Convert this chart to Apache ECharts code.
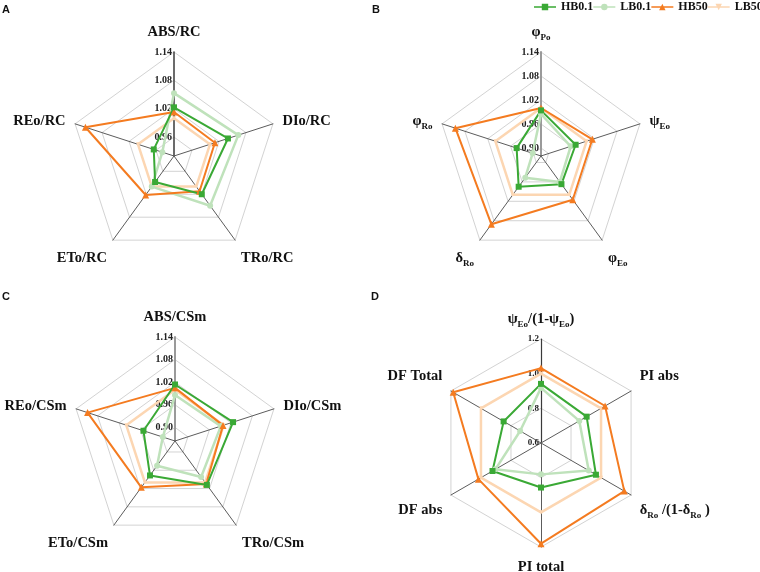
<!DOCTYPE html>
<html>
<head>
<meta charset="utf-8">
<script src="https://cdn.jsdelivr.net/npm/echarts@6/dist/echarts.min.js"></script>
<style>html,body{margin:0;padding:0;background:#fff}#c{width:760px;height:572px}</style>
</head>
<body>
<div id="c"></div>
<script>
// ---------- data ----------
const seriesNames = ['HB0.1', 'LB0.1', 'HB50', 'LB50'];

const catsA = ['ABS/RC', 'DIo/RC', 'TRo/RC', 'ETo/RC', 'REo/RC'];
const ticksA = [0.96, 1.02, 1.08, 1.14];
const minA = 0.92, maxA = 1.14;
const hb01A = [1.023, 1.040, 1.020, 0.988, 0.965];
const lb01A = [1.053, 1.063, 1.050, 1.000, 0.946];
const hb50A = [1.013, 1.011, 1.012, 1.022, 1.117];
const lb50A = [1.000, 1.000, 1.000, 1.000, 1.000];

const catsB = ['φ{s|Po}', 'ψ{s|Eo}', 'φ{s|Eo}', 'δ{s|Ro}', 'φ{s|Ro}'];
const ticksB = [0.90, 0.96, 1.02, 1.08, 1.14];
const minB = 0.88, maxB = 1.14;
const hb01B = [0.994, 0.971, 0.967, 0.975, 0.944];
const lb01B = [0.985, 0.958, 0.960, 0.947, 0.902];
const hb50B = [1.000, 1.015, 1.015, 1.091, 1.105];
const lb50B = [1.000, 1.000, 1.000, 1.000, 1.000];

const catsC = ['ABS/CSm', 'DIo/CSm', 'TRo/CSm', 'ETo/CSm', 'REo/CSm'];
const ticksC = [0.90, 0.96, 1.02, 1.08, 1.14];
const minC = 0.864, maxC = 1.14;
const hb01C = [1.014, 1.026, 1.008, 0.977, 0.952];
const lb01C = [0.986, 0.992, 0.982, 0.945, 0.898];
const hb50C = [1.005, 0.998, 1.005, 1.016, 1.108];
const lb50C = [1.000, 1.000, 1.000, 1.000, 1.000];

const catsD = ['ψ{s|Eo}/(1-ψ{s|Eo})', 'PI abs', 'δ{s|Ro} /(1-δ{s|Ro} )', 'PI total', 'DF abs', 'DF Total'];
const ticksD = [0.6, 0.8, 1.0, 1.2];
const minD = 0.6, maxD = 1.2;
const hb01D = [0.941, 0.904, 0.966, 0.857, 0.923, 0.849];
const lb01D = [0.918, 0.855, 0.918, 0.781, 0.904, 0.739];
const hb50D = [1.032, 1.027, 1.155, 1.181, 1.017, 1.185];
const lb50D = [1.000, 1.000, 1.000, 1.000, 1.000, 1.000];

// ---------- styles ----------
const SERIF = '"Liberation Serif", "Times New Roman", serif';
const colors = { 'HB0.1': '#3aa935', 'LB0.1': '#bfe2bb', 'HB50': '#f47b20', 'LB50': '#fcd6b2' };
const symbols = { 'HB0.1': 'rect', 'LB0.1': 'circle', 'HB50': 'triangle', 'LB50': 'triangle' };
const symSizes = { 'HB0.1': 6, 'LB0.1': 6, 'HB50': 7, 'LB50': 4 };
const widths = { 'HB0.1': 2, 'LB0.1': 2.5, 'HB50': 2, 'LB50': 2.5 };

// ECharts places indicators counter-clockwise; the reference runs clockwise.
function ccw(arr) { return [arr[0]].concat(arr.slice(1).reverse()); }

function makeRadar(cats, min, max, ticks, center, radius, digits, topAxis) {
  const n = cats.length;
  const ind = cats.map(function (c, i) {
    const ang = (90 - 360 * i / n) * Math.PI / 180;
    const s = Math.sin(ang), co = Math.cos(ang);
    let shift = 0;
    if (s < -0.3 && Math.abs(co) > 0.1) shift = 1;
    else if (s > 0.4 && s < 0.99) shift = -1;
    const o = { name: c, min: min, max: max, shift: shift };
    if (i === 0) {
      o.axisLabel = { show: true };
      o.axisLine = { lineStyle: topAxis };
    }
    return o;
  });
  return {
    center: center,
    radius: radius,
    shape: 'polygon',
    startAngle: 90,
    nameGap: 10,
    indicator: ccw(ind),
    splitArea: { show: false },
    splitLine: { lineStyle: { color: '#d3d3d3', width: 1 } },
    axisLine: { lineStyle: { color: '#5c5c5c', width: 1 } },
    axisTick: { show: false, customValues: ticks },
    axisLabel: {
      show: false, customValues: ticks, margin: 2,
      color: '#222', fontFamily: SERIF, fontWeight: 'bold', fontSize: digits === 1 ? 9 : 10,
      formatter: function (v) { return Number(v).toFixed(digits); }
    },
    axisName: {
      color: '#111', fontFamily: SERIF, fontWeight: 'bold', fontSize: 14.5, lineHeight: 20,
      formatter: function (name, indicator) {
        if (indicator && indicator.shift === 1) return '\n' + name;
        if (indicator && indicator.shift === -1) return name + '\n';
        return name;
      },
      rich: {
        s: { fontFamily: SERIF, fontWeight: 'bold', fontSize: 9, color: '#111', verticalAlign: 'bottom', lineHeight: 20 }
      }
    }
  };
}

function makeSeries(idx, hb01, lb01, hb50, lb50) {
  const vals = { 'HB0.1': hb01, 'LB0.1': lb01, 'HB50': hb50, 'LB50': lb50 };
  const order = ['LB50', 'LB0.1', 'HB50', 'HB0.1'];
  return {
    type: 'radar',
    radarIndex: idx,
    silent: true,
    data: order.map(function (nm) {
      return {
        name: nm,
        value: ccw(vals[nm]),
        symbol: symbols[nm],
        symbolSize: symSizes[nm],
        symbolRotate: nm === 'LB50' ? 180 : 0,
        itemStyle: { color: colors[nm] },
        lineStyle: { color: colors[nm], width: widths[nm] },
        areaStyle: null
      };
    })
  };
}

const icons = {
  'HB0.1': 'path://M0,2.6H24V4.4H0Z M8.5,0H15.5V7H8.5Z',
  'LB0.1': 'path://M0,2.6H24V4.4H0Z M8.5,3.5A3.5,3.5 0 1 1 15.5,3.5A3.5,3.5 0 1 1 8.5,3.5Z',
  'HB50': 'path://M0,2.6H24V4.4H0Z M12,0L15.5,7H8.5Z',
  'LB50': 'path://M0,2.6H24V4.4H0Z M8.5,0H15.5L12,7Z'
};

const panelTitle = function (t, x, y) {
  return { text: t, left: x, top: y, padding: 0,
    textStyle: { fontFamily: '"Liberation Sans", Arial, sans-serif', fontWeight: 'bold', fontSize: 11, color: '#111' } };
};

const option = {
  backgroundColor: '#fff',
  animation: false,
  title: [panelTitle('A', 2, 4), panelTitle('B', 372, 4), panelTitle('C', 2, 291), panelTitle('D', 371, 291)],
  legend: {
    left: 534, top: 0, width: 300, padding: [1, 0, 0, 0],
    itemWidth: 22, itemHeight: 7, itemGap: 0,
    selectedMode: false,
    textStyle: { fontFamily: SERIF, fontWeight: 'bold', fontSize: 12, color: '#111' },
    data: seriesNames.map(function (nm) { return { name: nm, icon: icons[nm] }; })
  },
  radar: [
    makeRadar(catsA, minA, maxA, ticksA, [174, 156], 104, 2, { color: '#3a3a3a', width: 1.5 }),
    makeRadar(catsB, minB, maxB, ticksB, [541, 156], 104, 2, { color: '#9a9a9a', width: 2 }),
    makeRadar(catsC, minC, maxC, ticksC, [175, 441], 104, 2, { color: '#9a9a9a', width: 2 }),
    makeRadar(catsD, minD, maxD, ticksD, [541, 443], 104, 1, { color: '#3a3a3a', width: 1.2 })
  ],
  series: [
    makeSeries(0, hb01A, lb01A, hb50A, lb50A),
    makeSeries(1, hb01B, lb01B, hb50B, lb50B),
    makeSeries(2, hb01C, lb01C, hb50C, lb50C),
    makeSeries(3, hb01D, lb01D, hb50D, lb50D)
  ]
};

const chart = echarts.init(document.getElementById('c'), null, { renderer: 'canvas' });
chart.setOption(option);
</script>
</body>
</html>
